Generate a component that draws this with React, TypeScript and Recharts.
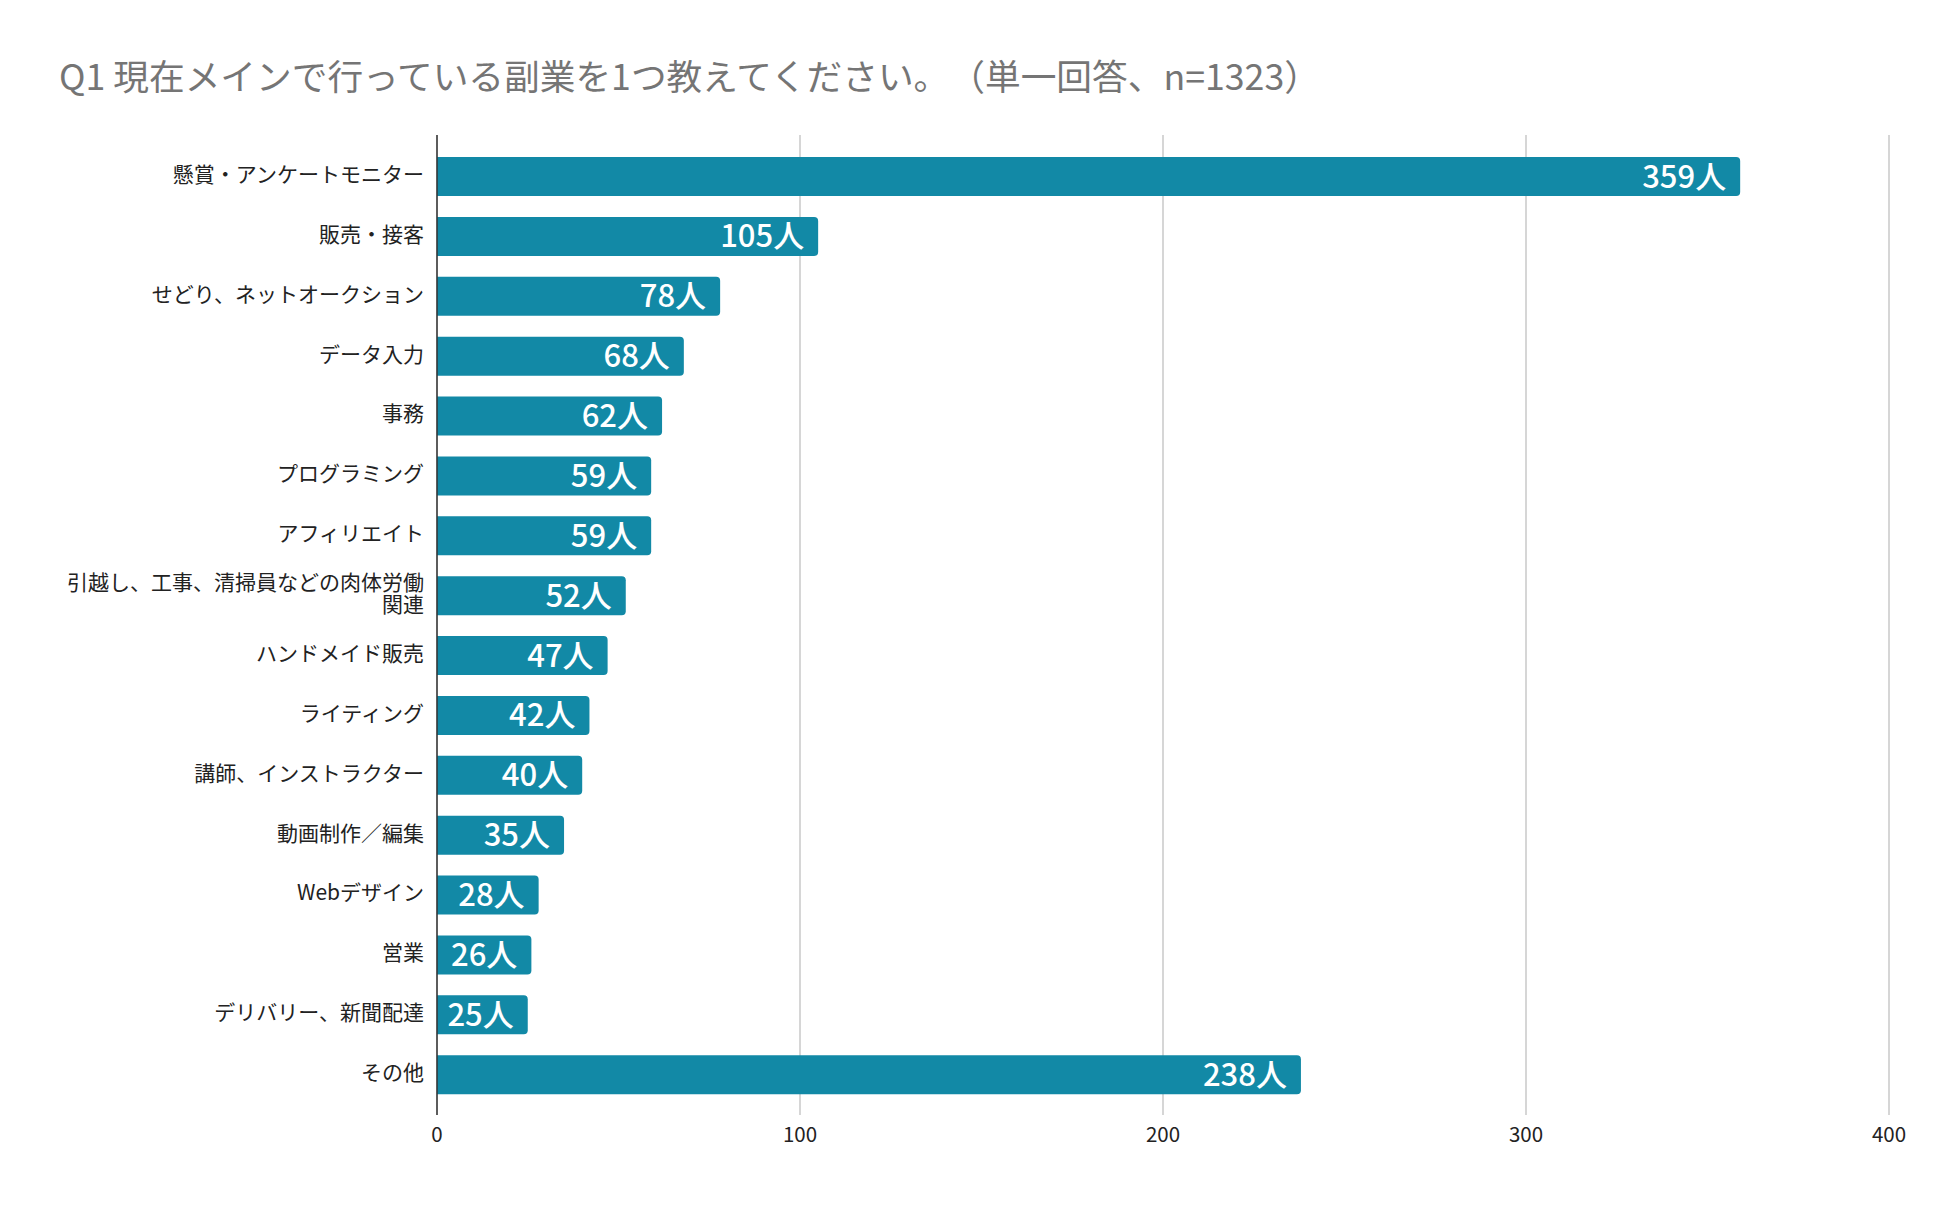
import * as React from "react";
import { BarChart, Bar, XAxis, YAxis, CartesianGrid, LabelList } from "recharts";

const TITLE = "Q1 現在メインで行っている副業を1つ教えてください。（単一回答、n=1323）";

const categories = [
  "懸賞・アンケートモニター",
  "販売・接客",
  "せどり、ネットオークション",
  "データ入力",
  "事務",
  "プログラミング",
  "アフィリエイト",
  "引越し、工事、清掃員などの肉体労働関連",
  "ハンドメイド販売",
  "ライティング",
  "講師、インストラクター",
  "動画制作／編集",
  "Webデザイン",
  "営業",
  "デリバリー、新聞配達",
  "その他",
];

const counts = [359, 105, 78, 68, 62, 59, 59, 52, 47, 42, 40, 35, 28, 26, 25, 238];

const xTicks = [0, 100, 200, 300, 400];

const FONT = '"Noto Sans CJK JP", "Noto Sans", sans-serif';
const BAR_COLOR = "#1289a6";
const MAX_CHARS = 17;

const data = categories.map((name, i) => ({ name, value: counts[i] }));

function wrapLabel(s: string): string[] {
  const lines: string[] = [];
  for (let i = 0; i < s.length; i += MAX_CHARS) lines.push(s.slice(i, i + MAX_CHARS));
  return lines;
}

function CategoryTick(props: any) {
  const { x, y, payload } = props;
  const lines = wrapLabel(String(payload?.value ?? ""));
  const lh = 21.5;
  const startY = y - 4 - ((lines.length - 1) * lh) / 2;
  return (
    <text
      x={x}
      y={startY}
      textAnchor="end"
      dominantBaseline="central"
      fontSize={21}
      fill="#222"
      fontFamily={FONT}
    >
      {lines.map((ln, i) => (
        <tspan key={i} x={x} y={startY + i * lh}>
          {ln}
        </tspan>
      ))}
    </text>
  );
}

export default function App() {
  return (
    <div
      style={{
        position: "absolute",
        left: 0,
        top: 0,
        width: 1950,
        height: 1209,
        background: "#fff",
        fontFamily: FONT,
      }}
    >
      <div
        style={{
          position: "absolute",
          left: 59,
          top: 55,
          fontSize: 35.7,
          lineHeight: "40px",
          color: "#757575",
          whiteSpace: "nowrap",
          textSpacingTrim: "space-all",
        } as any}
      >
        {TITLE}
      </div>
      <BarChart
        width={1950}
        height={1209}
        data={data}
        layout="vertical"
        margin={{ top: 135, right: 61, bottom: 54, left: 0 }}
      >
        <CartesianGrid horizontal={false} vertical stroke="#d6d6d6" strokeWidth={2} />
        <XAxis
          type="number"
          domain={[0, 400]}
          ticks={xTicks}
          axisLine={false}
          tickLine={false}
          height={40}
          tickMargin={6}
          tick={{ fontSize: 20.5, fill: "#222", fontFamily: FONT }}
        />
        <YAxis
          type="category"
          dataKey="name"
          width={437}
          padding={{ top: 12, bottom: 10 }}
          axisLine={{ stroke: "#333", strokeWidth: 1.5 }}
          tickLine={false}
          tickSize={0}
          tickMargin={13}
          interval={0}
          tick={<CategoryTick />}
        />
        <Bar dataKey="value" fill={BAR_COLOR} barSize={39} radius={[0, 4, 4, 0]} isAnimationActive={false}>
          <LabelList
            dataKey="value"
            position="insideRight"
            offset={14}
            fill="#fff"
            fontSize={31}
            fontWeight={500}
            fontFamily={FONT}
            formatter={(v: any) => `${v}人`}
          />
        </Bar>
      </BarChart>
    </div>
  );
}
